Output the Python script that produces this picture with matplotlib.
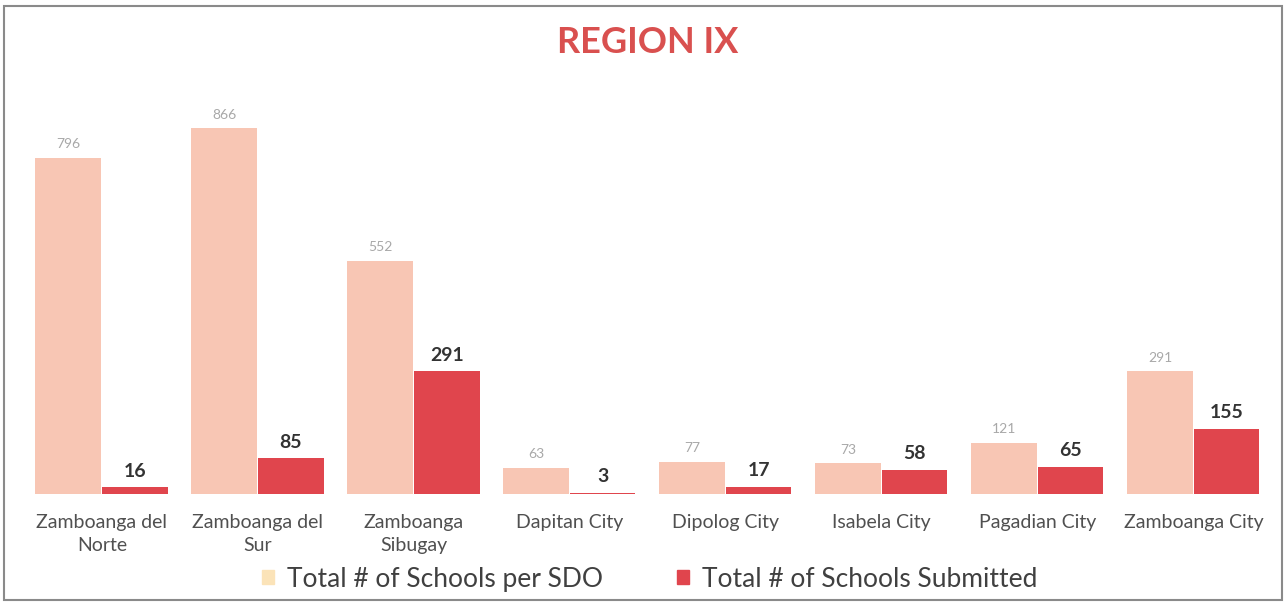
import numpy as np
import matplotlib
matplotlib.use('Agg')
from matplotlib import pyplot as plt
from matplotlib.patches import Rectangle, Patch

# data
categories = ['Zamboanga del\nNorte', 'Zamboanga del\nSur', 'Zamboanga\nSibugay', 'Dapitan City',
              'Dipolog City', 'Isabela City', 'Pagadian City', 'Zamboanga City']
total_schools = [796, 866, 552, 63, 77, 73, 121, 291]
submitted = [16, 85, 291, 3, 17, 58, 65, 155]
lab_total = 'Total # of Schools per SDO'
lab_sub = 'Total # of Schools Submitted'

c_pale = '#f8c6b4'
c_red = '#e0454d'
plt.rcParams['font.family'] = ['Lato', 'DejaVu Sans']

fig = plt.figure(figsize=(12.87, 6.02), dpi=100)
fig.patches.append(Rectangle((0.003, 0.004), 0.993, 0.986, transform=fig.transFigure,
                             fill=False, edgecolor='#8a8a8a', linewidth=1.5))
ax = fig.add_axes([0.0186, 0.179, 0.9695, 0.667])

x = np.arange(len(categories))
w = 0.42
b1 = ax.bar(x - 0.216, total_schools, w, color=c_pale, label=lab_total)
b2 = ax.bar(x + 0.211, submitted, w, color=c_red, label=lab_sub)

for r, v in zip(b1, total_schools):
    ax.text(r.get_x() + r.get_width()/2, v + 18, str(v), ha='center', va='bottom',
            fontsize=10, color='#a8a8a8')
for r, v in zip(b2, submitted):
    ax.text(r.get_x() + r.get_width()/2, v + 18, str(v), ha='center', va='bottom',
            fontsize=14, fontweight='bold', color='#333333')

ax.set_xlim(-0.5, 7.5)
ax.set_ylim(0, 950)
ax.set_xticks(x)
ax.set_xticklabels(categories, fontsize=14, color='#505050', linespacing=1.45)
ax.tick_params(axis='x', length=0, pad=14)
ax.set_yticks([])
for s in ax.spines.values():
    s.set_visible(False)

fig.text(0.503, 0.93, 'REGION IX', ha='center', va='center', fontsize=26,
         fontweight='bold', color='#d9504f')

fig.legend(handles=[Patch(color='#fbe3b8', label=lab_total), Patch(color=c_red, label=lab_sub)],
           loc='center', bbox_to_anchor=(0.505, 0.038), ncol=2, frameon=False,
           fontsize=19, handlelength=0.45, handleheight=0.45, handletextpad=0.5,
           columnspacing=2.8, labelcolor='#404040')

plt.savefig('out.png')
